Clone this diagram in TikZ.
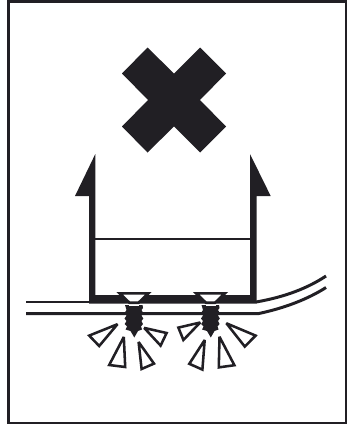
\documentclass[tikz,border=0pt]{standalone}
\usepackage{xcolor}
\usetikzlibrary{calc}
\definecolor{signblack}{HTML}{211F24}
\tikzset{
    signline/.style={draw=signblack, line width=1.5pt, line join=miter},
    shard/.style={draw=signblack, line width=1.45pt, line join=miter, miter limit=2}
}
% One screw, head centre at x=0, head top at y=292
\newcommand{\screwshape}{
    % Threaded shank
    \fill[signblack] (-9,305) -- (8.5,305) -- (9,308) -- (7.5,310) -- (9.3,313) -- (7.5,315.5) -- (9.3,318.5) -- (7.5,321) -- (9,324) -- (7,326.5) -- (8,329.5) -- (4,331) -- (0.3,337.5) -- (-3.5,331) -- (-8.5,329.5) -- (-7,326.5) -- (-9.3,324) -- (-7.5,321) -- (-9.5,318.5) -- (-7.5,315.5) -- (-9.5,313) -- (-7.5,310) -- cycle;
    % Neck
    \fill[white] (-5,303.5) rectangle (5,306);
    % Head
    \draw[signline, fill=white, miter limit=10] (-14.3,293.4) -- (14.3,293.4) -- (4.5,302.8) -- (-4.5,302.8) -- cycle;
}
\begin{document}
\begin{tikzpicture}[x=0.02cm, y=-0.02cm]
    \useasboundingbox (0, 0) rectangle (349, 426);

    % Frame
    \draw[signblack, line width=1.6pt] (8.5, 1.5) rectangle (346, 423);

    % Cross
    \fill[signblack] (147.5, 47.5) -- (174, 73.5) -- (200, 47.5) -- (226, 73.5) -- (200, 100) -- (226, 126.5) -- (200, 152.5) -- (174, 126.5) -- (147.5, 152.5) -- (122, 126.5) -- (148, 100) -- (122, 73.5) -- cycle;

    % Bracket with arrows
    \fill[signblack] (95.3, 154) -- (95.3, 295) -- (250, 295) -- (250, 154) -- (270.7, 196) -- (256.7, 196) -- (256.7, 303.5) -- (89, 303.5) -- (89, 196) -- (75, 196) -- cycle;
    \draw[signblack, line width=1.5pt] (95, 239) -- (250, 239);

    % Plate
    \draw[signblack, line width=1.7pt] (26, 302) -- (89, 302);
    \draw[signblack, line width=1.7pt] (256, 302) .. controls (285, 297) and (308, 288) .. (326, 276);
    \draw[signblack, line width=1.7pt] (26, 313.7) -- (258, 313.7) .. controls (285, 308) and (308, 299) .. (326, 287.5);

    % Screws
    \begin{scope}[xshift=134*0.02cm]
        \screwshape
    \end{scope}
    \begin{scope}[xshift=210.5*0.02cm]
        \screwshape
    \end{scope}

    % Shards, first screw
    \draw[shard] (117.5, 324.2) -- (89.2, 335.6) -- (99.2, 346) -- cycle;
    \draw[shard] (123.8, 337) -- (109.2, 365) -- (125.2, 367) -- cycle;
    \draw[shard] (138.6, 342) -- (141.6, 369) -- (154, 363.6) -- cycle;
    \draw[shard] (144.2, 327.9) -- (166.6, 333) -- (160.6, 345.6) -- cycle;

    % Shards, second screw
    \draw[shard] (200.2, 322.5) -- (178.4, 327.6) -- (183.4, 340) -- cycle;
    \draw[shard] (204.7, 340) -- (189.3, 363.8) -- (202.4, 369.6) -- cycle;
    \draw[shard] (219.5, 336.8) -- (218.8, 367.4) -- (234.4, 365.2) -- cycle;
    \draw[shard] (226.4, 323.3) -- (255.6, 335.6) -- (244.8, 346.6) -- cycle;
\end{tikzpicture}
\end{document}
